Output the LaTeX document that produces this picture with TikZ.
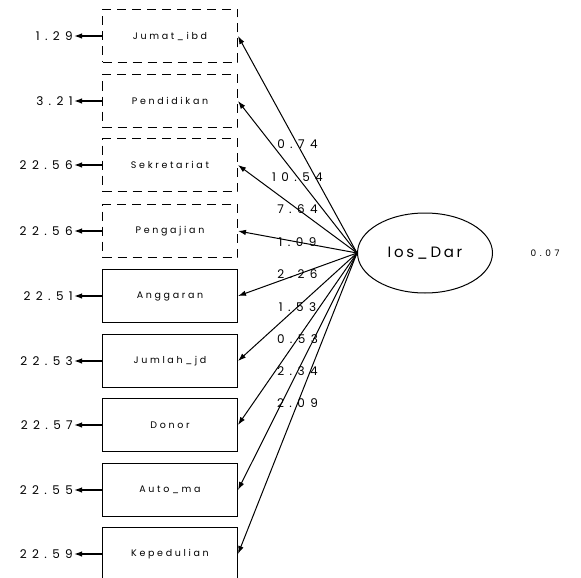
\documentclass[tikz,border=0pt]{standalone}
\usepackage{fontspec}
\setmainfont{Poppins}[LetterSpace=18]
\usetikzlibrary{
    arrows.meta,
    shapes.geometric
}

\begin{document}
\begin{tikzpicture}[
        x=1pt, y=-1pt,
        >={Latex[length=8pt,width=5.5pt]},
        obs/.style={
            rectangle,
            draw,
            line width=1pt,
            minimum width=135pt,
            minimum height=53pt,
            font=\fontsize{9.5}{11}\selectfont\addfontfeature{LetterSpace=28}
        },
        obsdash/.style={
            obs,
            dashed,
            dash pattern=on 9pt off 6pt
        },
        latent/.style={
            ellipse,
            draw,
            line width=1pt,
            minimum width=135pt,
            minimum height=80pt,
            inner sep=0pt,
            font=\fontsize{15}{17}\selectfont
        },
        num/.style={
            font=\fontsize{12}{14}\selectfont\addfontfeature{LetterSpace=45},
            inner sep=1pt
        },
        load/.style={->, line width=1pt},
        err/.style={->, line width=1.4pt}
    ]
    \useasboundingbox (0,0) rectangle (581,578);

    % indicators
    \node[obsdash] (X1) at (170,36)  {Jumat\_ibd};
    \node[obsdash] (X2) at (170,101) {Pendidikan};
    \node[obsdash] (X3) at (170,165) {Sekretariat};
    \node[obsdash] (X4) at (170,231) {Pengajian};
    \node[obs]     (X5) at (170,296) {Anggaran};
    \node[obs]     (X6) at (170,361) {Jumlah\_jd};
    \node[obs]     (X7) at (170,425) {Donor};
    \node[obs]     (X8) at (170,490) {Auto\_ma};
    \node[obs]     (X9) at (170,554) {Kepedulian};

    % latent factor
    \node[latent] (F) at (425,253) {Ios\_Dar};
    \node[num,font=\fontsize{9}{11}\selectfont\addfontfeature{LetterSpace=40}] (vF) at (545,253) {0.07};

    % error variances
    \node[num,anchor=east] (e1) at (74,36)  {1.29};
    \node[num,anchor=east] (e2) at (74,101) {3.21};
    \node[num,anchor=east] (e3) at (74,165) {22.56};
    \node[num,anchor=east] (e4) at (74,231) {22.56};
    \node[num,anchor=east] (e5) at (74,296) {22.51};
    \node[num,anchor=east] (e6) at (74,361) {22.53};
    \node[num,anchor=east] (e7) at (74,425) {22.57};
    \node[num,anchor=east] (e8) at (74,490) {22.55};
    \node[num,anchor=east] (e9) at (74,554) {22.59};

    \foreach \i in {1,...,9}
        \draw[err] (X\i.west) -- (e\i.east);

    % loadings
    \draw[load] (F.west) -- node[num,midway] {0.74}  (X1.east);
    \draw[load] (F.west) -- node[num,midway] {10.54} (X2.east);
    \draw[load] (F.west) -- node[num,midway] {7.64}  (X3.east);
    \draw[load] (F.west) -- node[num,midway] {1.09}  (X4.east);
    \draw[load] (F.west) -- node[num,midway] {2.26}  (X5.east);
    \draw[load] (F.west) -- node[num,midway] {1.53}  (X6.east);
    \draw[load] (F.west) -- node[num,midway] {0.53}  (X7.east);
    \draw[load] (F.west) -- node[num,midway] {2.34}  (X8.east);
    \draw[load] (F.west) -- node[num,midway] {2.09}  (X9.east);
\end{tikzpicture}
\end{document}
